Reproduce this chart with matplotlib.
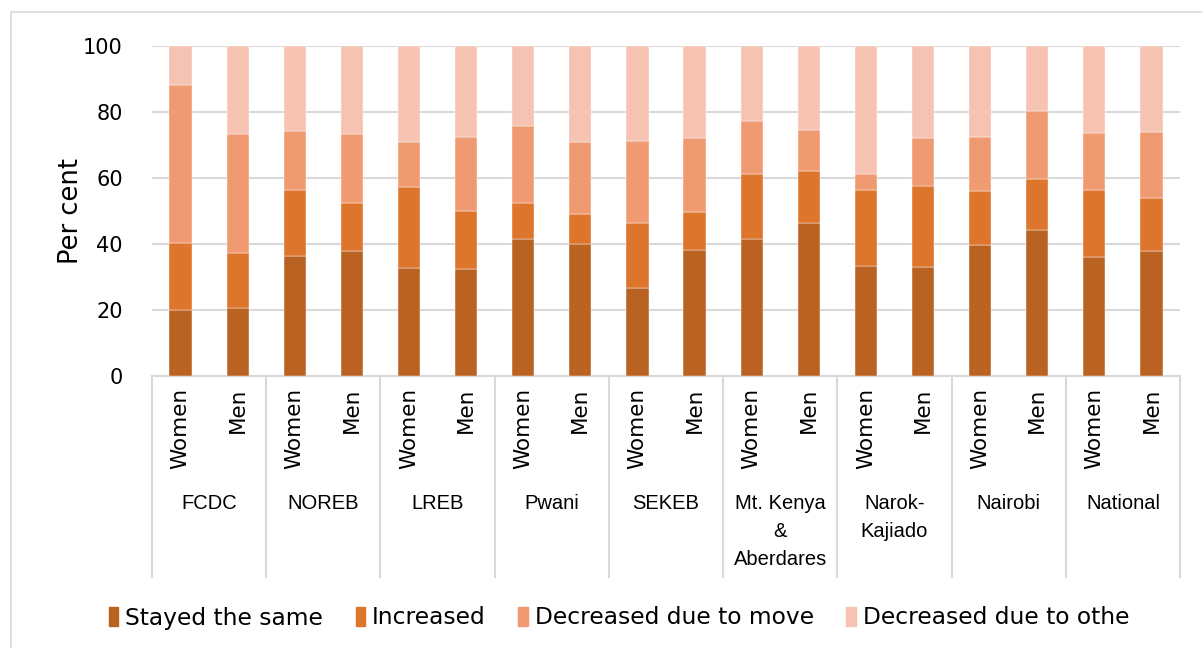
import matplotlib
matplotlib.use("Agg")
import matplotlib.pyplot as plt
from matplotlib.patches import Rectangle
import numpy as np

# regions and sexes (two bars per region)
regions = ["FCDC", "NOREB", "LREB", "Pwani", "SEKEB",
           "Mt. Kenya\n&\nAberdares", "Narok-\nKajiado", "Nairobi", "National"]
sexes = ["Women", "Men"]

# cumulative tops, order: W, M per region
stayed = [20.0, 20.6, 36.5, 38.0, 32.8, 32.5, 41.4, 40.1, 26.6,
          38.3, 41.4, 46.5, 33.4, 33.1, 39.8, 44.1, 36.2, 38.0]
top_increased = [40.3, 37.3, 56.3, 52.5, 57.4, 50.1, 52.5, 49.2, 46.4,
                 49.8, 61.1, 62.0, 56.5, 57.7, 56.2, 59.7, 56.4, 53.8]
top_move = [88.2, 73.3, 74.3, 73.3, 70.8, 72.4, 75.7, 71.0, 71.1,
            72.1, 77.2, 74.5, 61.3, 72.2, 72.4, 80.3, 73.6, 73.8]

stayed = np.array(stayed)
increased = np.array(top_increased) - stayed
moved = np.array(top_move) - np.array(top_increased)
other = 100 - np.array(top_move)

series = ["Stayed the same", "Increased", "Decreased due to move", "Decreased due to othe"]
colors = ["#BA6222", "#DE752D", "#F09A72", "#F6C3B2"]

fig = plt.figure(figsize=(12.02, 6.48), dpi=100)
ax = fig.add_axes([152/1202, 1 - 376/648, (1180-152)/1202, 330/648])

# chart frame
fig.patches.append(Rectangle((11/1202, -0.1), 1.2, 1 - 12/648 + 0.1,
                             transform=fig.transFigure, fill=False,
                             edgecolor="#D9D9D9", linewidth=1.2))

x = np.arange(len(stayed))
bottom = np.zeros(len(x))
for vals, col, lab in zip([stayed, increased, moved, other], colors, series):
    ax.bar(x, vals, width=0.39, bottom=bottom, color=col, label=lab,
           edgecolor="white", linewidth=0.3, zorder=3)
    bottom += vals

ax.set_ylim(0, 100)
ax.set_xlim(-0.5, len(x) - 0.5)
ax.set_yticks(range(0, 101, 20))
ax.yaxis.grid(True, color="#D9D9D9", linewidth=1.5, zorder=0)
for s in ["top", "right", "left"]:
    ax.spines[s].set_visible(False)
ax.spines["bottom"].set_color("#D9D9D9")
ax.spines["bottom"].set_linewidth(1.5)
ax.tick_params(axis="y", length=0, labelsize=15, pad=21)
ax.tick_params(axis="x", length=0)
ax.set_xticks([])
ax.set_ylabel("Per cent", fontsize=18.5)
ax.yaxis.set_label_coords((84-152)/1028, 0.5)

# multi-level category axis
trans = ax.get_xaxis_transform()
for i in range(len(x)):
    ax.text(x[i], -12/330, sexes[i % 2], rotation=90, ha="center", va="top",
            fontsize=15.5, transform=trans)
for g, name in enumerate(regions):
    ax.text(2*g + 0.5, -(494-376)/330, name, ha="center", va="top",
            fontsize=14.5, linespacing=1.6, transform=trans,
            family=["Liberation Sans Narrow", "Liberation Sans"])
for b in np.arange(-0.5, len(x), 2):
    ax.plot([b, b], [0, -(577-376)/330], color="#D9D9D9", linewidth=1.5,
            transform=trans, clip_on=False)

handles = [Rectangle((0, 0), 1, 1, color=c) for c in colors]
fig.legend(handles, series, loc="center", bbox_to_anchor=(0.515, 1 - 618/648),
           ncol=4, frameon=False, fontsize=16.8, handlelength=0.4,
           handleheight=0.9, handletextpad=0.3, columnspacing=1.4)

fig.savefig("out.png", dpi=100)
